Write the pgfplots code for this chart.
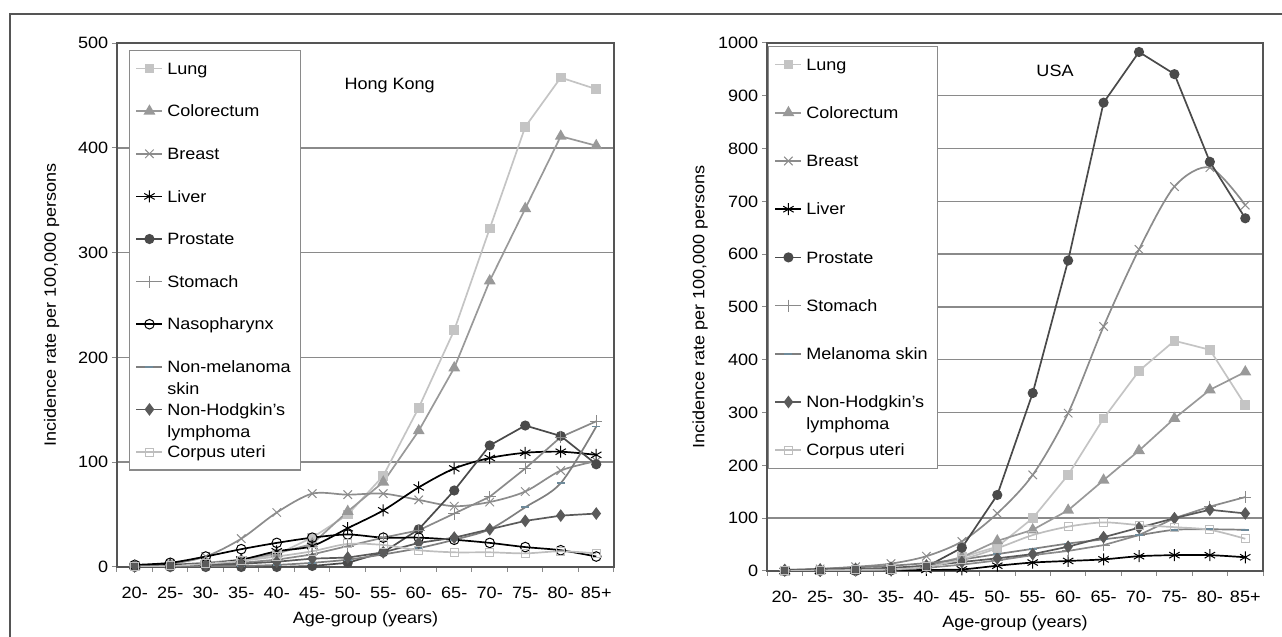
\documentclass[border=0pt]{standalone}
\usepackage{fontspec}
\setmainfont{Liberation Sans}[FakeStretch=1.1]
\usepackage{pgfplots}
\usepackage{pgfplotstable}
\pgfplotsset{compat=1.18}

\definecolor{clung}{HTML}{C4C4C4}
\definecolor{ccolo}{HTML}{999999}
\definecolor{cbreast}{HTML}{8C8C8C}
\definecolor{cprost}{HTML}{4A4A4A}
\definecolor{cstom}{HTML}{8A8A8A}
\definecolor{cskin}{HTML}{7F7F7F}
\definecolor{cskinmark}{HTML}{6E8A9A}
\definecolor{cnhl}{HTML}{5A5A5A}
\definecolor{ccorp}{HTML}{BEBEBE}
\definecolor{cgrid}{HTML}{8A8A8A}
\definecolor{cframe}{HTML}{555555}

% legend text: every entry gets the same box, a second line hangs below
\newcommand{\legtext}[1]{\raisebox{0pt}[7pt][2pt]{\begin{tabular}[t]{@{}l@{}}#1\end{tabular}}}

% Hong Kong, per 100,000, age groups 20- ... 85+
\pgfplotstableread{
x  Lung Colo Breast Liver Prost Stom Naso Skin NHL Corpus
0  1    1    1      1     0     0    2    0    1   0
1  2    2    3      2     0     1    4    0    1   1
2  4    4    10     3     0     2    10   1    2   3
3  6    7    27     7     0     4    17   1    3   6
4  12   13   52     15    0     7    23   2    5   10
5  28   22   70     20    1     12   28   4    8   15
6  50   53   69     37    4     20   31   7    9   22
7  87   81   70     54    14    28   28   12   14  21
8  152  130  64     76    36    35   28   18   23  16
9  226  190  58     94    73    51   26   26   28  14
10 323  273  62     104   116   67   23   36   36  14
11 420  342  72     109   135   94   19   57   44  13
12 467  411  92     110   125   124  16   80   49  15
13 456  402  101    107   98    139  10   134  51  13
}\hk

% USA
\pgfplotstableread{
x  Lung Colo Breast Liver Prost Stom Mel NHL Corpus
0  0    0    1      0     0     0    2   2   0
1  1    1    4      0     0     1    4   3   1
2  2    2    8      1     0     2    7   4   2
3  4    4    14     1     1     3    10  6   3
4  10   10   28     2     8     6    15  10  8
5  26   26   56     3     44    12   22  17  22
6  46   57   109    10    144   20   32  24  43
7  100  78   182    16    337   30   42  32  68
8  182  115  299    19    588   38   52  46  84
9  289  172  463    22    887   49   60  64  92
10 379  228  609    28    983   68   68  82  87
11 436  289  728    30    941   100  78  100 83
12 419  343  764    30    775   122  79  116 78
13 314  377  693    26    668   140  78  109 61
}\usa

\pgfplotsset{
  agechart/.style={
    scale only axis, width=248.5pt,
    xmin=-0.5, xmax=13.5, ymin=0,
    xtick={-0.5,0.5,...,13.5}, xticklabels={},
    extra x ticks={0,...,13},
    extra x tick labels={20-,25-,30-,35-,40-,45-,50-,55-,60-,65-,70-,75-,80-,85+},
    extra x tick style={major tick length=0pt},
    xtick pos=left, ytick pos=left,
    tick align=outside, major tick length=2.5pt,
    tick style={cgrid, line width=0.5pt},
    ymajorgrids, grid style={cgrid, line width=0.7pt},
    axis line style={cframe, line width=0.6pt},
    /pgf/number format/assume math mode=true,
    /pgf/number format/1000 sep={},
    xticklabel style={yshift=-7pt},
    yticklabel style={xshift=1pt},
    xlabel={Age-group (years)},
    ylabel={Incidence rate per 100,000 persons},
    legend cell align=left,
    legend image code/.code={\draw[mark repeat=2,mark phase=2,##1] plot coordinates {(0pt,0pt) (6.5pt,0pt) (13pt,0pt)};},
    legend style={at={(0,1)}, anchor=north west, draw=cgrid, line width=0.6pt,
      inner xsep=3pt, inner ysep=3.5pt, cells={anchor=west},
      nodes={minimum height=11pt, inner ysep=0pt}},
    every axis plot/.append style={line width=0.85pt},
  },
}

\begin{document}
\fontsize{8.2}{11}\selectfont
\begin{tikzpicture}
\useasboundingbox (0,0) rectangle (641pt,318.5pt);
\draw[cframe, line width=1pt] (5pt,0pt) -- (5pt,311.5pt) -- (641pt,311.5pt);

\begin{axis}[agechart,
  at={(58.5pt,35pt)}, anchor=south west, height=262pt,
  ymax=500, ytick={0,100,...,500},
  ylabel style={at={(axis description cs:-0.1314,0.5)}, anchor=center},
  xlabel style={at={(axis description cs:0.5,0)}, anchor=center, yshift=-26pt},
  legend style={xshift=6pt, yshift=-3.5pt, row sep=10.3pt},
]
\addplot[clung, mark=square*, mark size=2pt] table[x=x,y=Lung]{\hk};
\addlegendentry{\legtext{Lung}}
\addplot[ccolo, mark=triangle*, mark size=2.6pt] table[x=x,y=Colo]{\hk};
\addlegendentry{\legtext{Colorectum}}
\addplot[cbreast, smooth, mark=x, mark size=3pt, mark options={line width=0.5pt}] table[x=x,y=Breast]{\hk};
\addlegendentry{\legtext{Breast}}
\addplot[black, smooth, mark=asterisk, mark size=3pt, mark options={line width=0.5pt}] table[x=x,y=Liver]{\hk};
\addlegendentry{\legtext{Liver}}
\addplot[cprost, mark=*, mark size=2.1pt] table[x=x,y=Prost]{\hk};
\addlegendentry{\legtext{Prostate}}
\addplot[cstom, mark=+, mark size=3pt, mark options={line width=0.5pt}] table[x=x,y=Stom]{\hk};
\addlegendentry{\legtext{Stomach}}
\addplot[black, smooth, mark=o, mark size=2.4pt, mark options={fill=white, line width=0.5pt}] table[x=x,y=Naso]{\hk};
\addlegendentry{\legtext{Nasopharynx}}
\addplot[cskin, smooth, mark=-, mark size=2pt, mark options={cskinmark}] table[x=x,y=Skin]{\hk};
\addlegendentry{\legtext{Non-melanoma\\skin}}
\addplot[cnhl, mark=diamond*, mark size=2.5pt] table[x=x,y=NHL]{\hk};
\addlegendentry{\legtext{Non-Hodgkin's\\lymphoma}}
\addplot[ccorp, smooth, mark=square, mark size=2pt, mark options={fill=white, line width=0.5pt}] table[x=x,y=Corpus]{\hk};
\addlegendentry{\legtext{Corpus uteri}}
\node at (axis cs:7.18,459) {Hong Kong};
\end{axis}

\begin{axis}[agechart,
  at={(383.5pt,33pt)}, anchor=south west, height=264pt, width=248pt,
  ymax=1000, ytick={0,100,...,1000},
  ylabel style={at={(axis description cs:-0.135,0.5)}, anchor=center},
  xlabel style={at={(axis description cs:0.5,0)}, anchor=center, yshift=-26.3pt},
  legend style={xshift=0.5pt, yshift=-1.5pt, row sep=13.1pt},
]
\addplot[clung, mark=square*, mark size=2pt] table[x=x,y=Lung]{\usa};
\addlegendentry{\legtext{Lung}}
\addplot[ccolo, mark=triangle*, mark size=2.6pt] table[x=x,y=Colo]{\usa};
\addlegendentry{\legtext{Colorectum}}
\addplot[cbreast, smooth, mark=x, mark size=3pt, mark options={line width=0.5pt}] table[x=x,y=Breast]{\usa};
\addlegendentry{\legtext{Breast}}
\addplot[black, smooth, mark=asterisk, mark size=3pt, mark options={line width=0.5pt}] table[x=x,y=Liver]{\usa};
\addlegendentry{\legtext{Liver}}
\addplot[cprost, mark=*, mark size=2.1pt] table[x=x,y=Prost]{\usa};
\addlegendentry{\legtext{Prostate}}
\addplot[cstom, mark=+, mark size=3pt, mark options={line width=0.5pt}] table[x=x,y=Stom]{\usa};
\addlegendentry{\legtext{Stomach}}
\addplot[cskin, smooth, mark=-, mark size=2pt, mark options={cskinmark}] table[x=x,y=Mel]{\usa};
\addlegendentry{\legtext{Melanoma skin}}
\addplot[cnhl, mark=diamond*, mark size=2.5pt] table[x=x,y=NHL]{\usa};
\addlegendentry{\legtext{Non-Hodgkin's\\lymphoma}}
\addplot[ccorp, smooth, mark=square, mark size=2pt, mark options={fill=white, line width=0.5pt}] table[x=x,y=Corpus]{\usa};
\addlegendentry{\legtext{Corpus uteri}}
\node at (axis cs:7.63,947) {USA};
\end{axis}
\end{tikzpicture}
\end{document}
